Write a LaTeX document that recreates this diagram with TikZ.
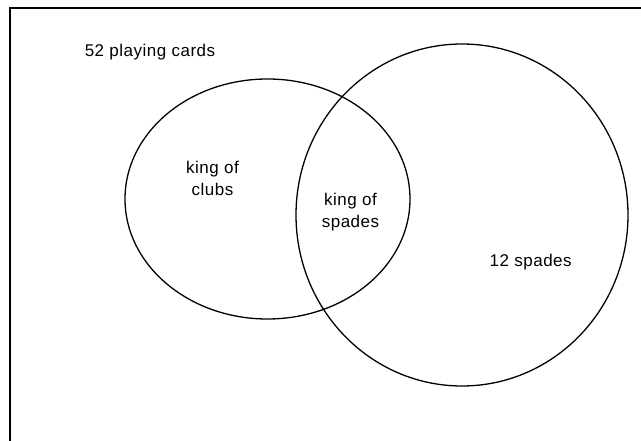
\documentclass[tikz,border=0pt]{standalone}
\usepackage{fontspec}
\setmainfont{Liberation Sans}[LetterSpace=3]
\begin{document}
\begin{tikzpicture}[x=1pt,y=-1pt,every node/.style={font=\fontsize{17}{22}\selectfont, align=center, inner sep=0pt}]
  \useasboundingbox (0,0) rectangle (641,441);
  \clip (0,0) rectangle (641,441);
  \draw[line width=1.4pt] (10,460) -- (10,8) -- (660,8);
  \draw[line width=1.3pt] (267.5,199) ellipse [x radius=142.5, y radius=120];
  \draw[line width=1.3pt] (462,215) ellipse [x radius=166, y radius=171];
  \node[anchor=base] (cardsl) at (150,56.7) {52 playing cards};
  \node (clubsl) at (212.5,178) {king of\\ clubs};
  \node (spadesl) at (350.5,212) {king of\\ spades};
  \node[anchor=base] (twelvel) at (530.7,266.7) {12 spades};
\end{tikzpicture}
\end{document}
